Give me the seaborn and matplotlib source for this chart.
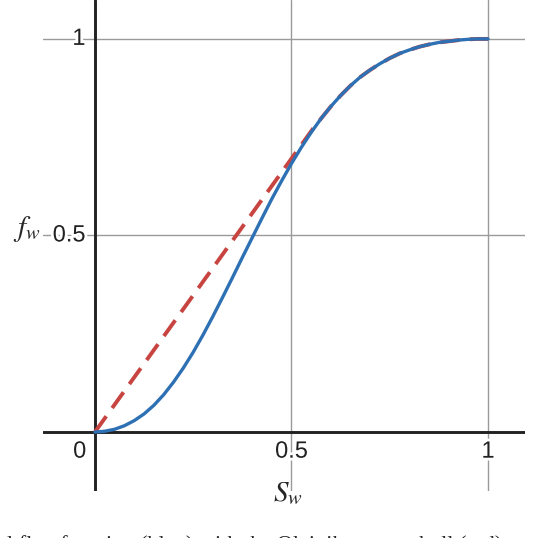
import matplotlib
matplotlib.use("Agg")
import matplotlib.pyplot as plt
import matplotlib.patheffects as pe
import seaborn as sns
import pandas as pd

# ============================================
# DATA
# ============================================
sw = [0.0, 0.025, 0.05, 0.075, 0.1, 0.125, 0.15, 0.175, 0.2, 0.225,
      0.25, 0.275, 0.3, 0.325, 0.35, 0.375, 0.4, 0.425, 0.45, 0.475,
      0.5, 0.525, 0.55, 0.575, 0.6, 0.625, 0.65, 0.675, 0.7, 0.725,
      0.75, 0.775, 0.8, 0.825, 0.85, 0.875, 0.9, 0.925, 0.95, 0.975, 1.0]
fw = [0.0, 0.002, 0.007, 0.016, 0.029, 0.046, 0.068, 0.095, 0.127, 0.163,
      0.203, 0.247, 0.294, 0.343, 0.393, 0.444, 0.494, 0.544, 0.593, 0.639,
      0.683, 0.724, 0.762, 0.797, 0.828, 0.856, 0.881, 0.903, 0.921, 0.937,
      0.951, 0.963, 0.972, 0.980, 0.986, 0.991, 0.994, 0.997, 0.999, 1.0, 1.0]

# Oleinik hull: straight chord from the origin to the tangent point, then the curve
hull_sw = [0.0, 0.56, 0.575, 0.6, 0.625, 0.65, 0.675, 0.7, 0.725, 0.75,
           0.775, 0.8, 0.825, 0.85, 0.875, 0.9, 0.925, 0.95, 0.975, 1.0]
hull_fw = [0.0, 0.779, 0.797, 0.828, 0.856, 0.881, 0.903, 0.921, 0.937, 0.951,
           0.963, 0.972, 0.980, 0.986, 0.991, 0.994, 0.997, 0.999, 1.0, 1.0]

x_ticks = [0, 0.5, 1]
x_tick_labels = ["0", "0.5", "1"]
y_ticks = [0.5, 1]
y_tick_labels = ["0.5", "1"]

caption = "nal flux function (blue) with the Oleinik convex hull (red)"

curve = pd.DataFrame({"Sw": sw, "fw": fw})
hull = pd.DataFrame({"Sw": hull_sw, "fw": hull_fw})

# ============================================
# FIGURE
# ============================================
sns.set_style("white")
plt.rcParams["font.family"] = ["Liberation Sans", "DejaVu Sans"]
plt.rcParams["mathtext.fontset"] = "stix"

W, H = 554, 538
fig = plt.figure(figsize=(W / 100, H / 100), dpi=100)
ax = fig.add_axes([43 / W, 1 - 491 / H, (525 - 43) / W, 491 / H])
ax.axis("off")

# grid lines
grid_kw = dict(color="#9a9a9a", linewidth=1.0, zorder=1)
for t in x_ticks[1:]:
    ax.axvline(t, **grid_kw)
for t in y_ticks:
    ax.axhline(t, **grid_kw)

# main axes
ax.axhline(0, color="#222222", linewidth=2.1, zorder=2)
ax.axvline(0, color="#222222", linewidth=2.1, zorder=2)

# tick labels with white halo (desmos style)
halo = [pe.withStroke(linewidth=4, foreground="white")]
for t, lab in zip(x_ticks, x_tick_labels):
    if t == 0:
        ax.text(-0.022, -0.05, lab, ha="right", va="center", fontsize=17,
                color="#222222", path_effects=halo, zorder=3)
    else:
        ax.text(t, -0.05, lab, ha="center", va="center", fontsize=17,
                color="#222222", path_effects=halo, zorder=3)
for t, lab in zip(y_ticks, y_tick_labels):
    ax.text(-0.024, t, lab, ha="right", va="center", fontsize=17,
            color="#222222", path_effects=halo, zorder=3)

# curves
sns.lineplot(data=hull, x="Sw", y="fw", ax=ax, color="#c74440", linewidth=2.8,
             linestyle=(0, (5, 2.6)), zorder=4)
sns.lineplot(data=curve, x="Sw", y="fw", ax=ax, color="#2d70b3", linewidth=2.4,
             zorder=5)
ax.set_xlim(-0.132, 1.094)
ax.set_ylim(-0.150, 1.099)

# axis names
fig.text(27 / W, 1 - 229 / H, r"$f_w$", ha="center", va="center", fontsize=21)
fig.text(288 / W, 1 - 493 / H, r"$S_w$", ha="center", va="center", fontsize=21)

# caption of the paper, cut by the bottom edge
fig.text(-14 / W, 1 - 536 / H, caption, ha="left", va="top", fontsize=16,
         family="Liberation Serif")

plt.savefig("out.png", dpi=100)
